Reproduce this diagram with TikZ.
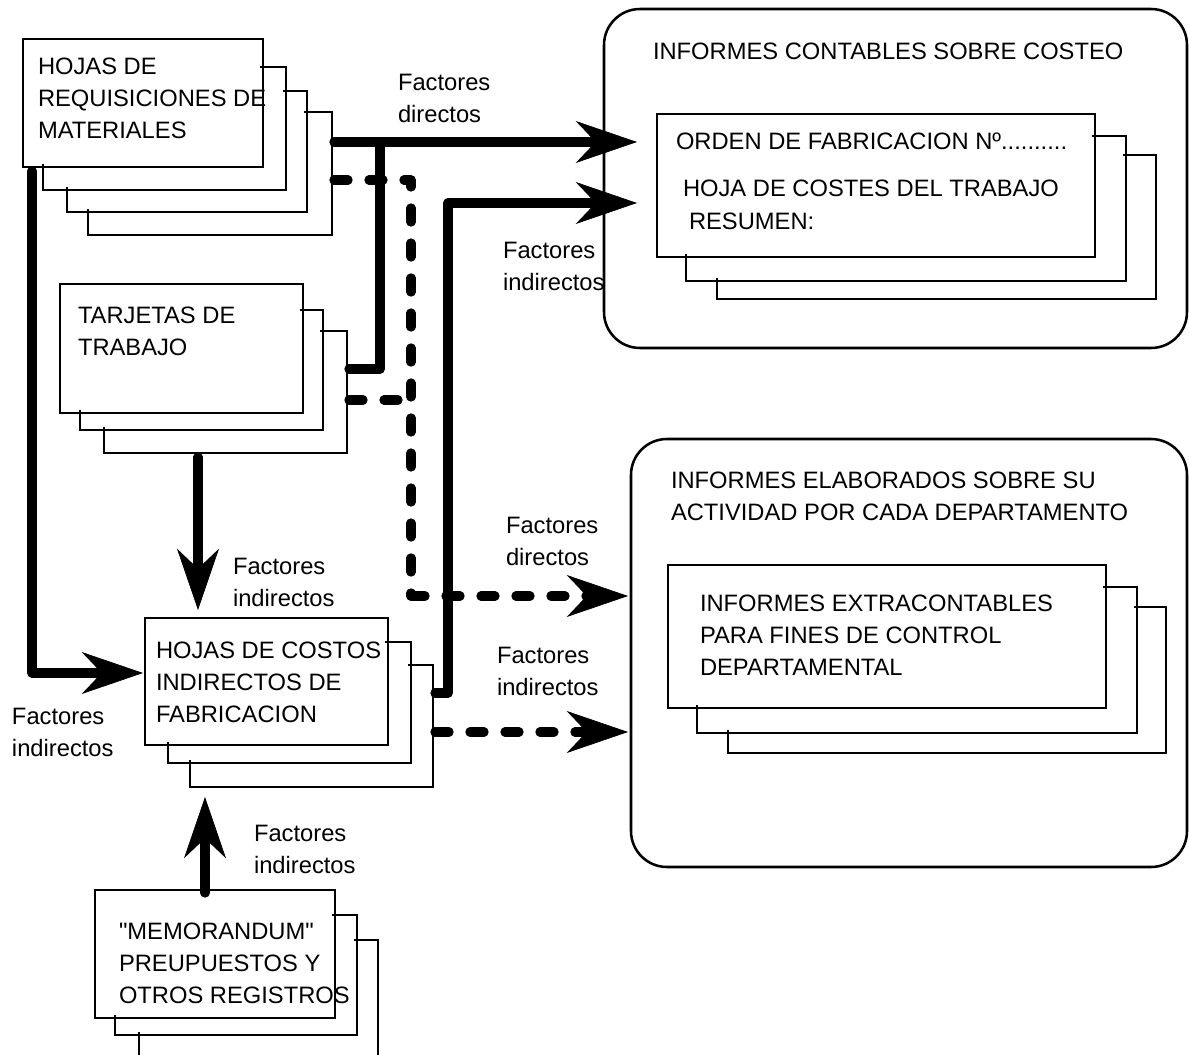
\documentclass[tikz,border=0pt]{standalone}
\usepackage{fontspec}
\setmainfont{Liberation Sans}[Ligatures=TeXOff]
\usetikzlibrary{arrows.meta,fit}
\begin{document}
\begin{tikzpicture}[x=0.75pt,y=-0.75pt,
  frontbox/.style={draw, line width=1.9pt, inner sep=0pt, outer sep=0pt},
  roundbox/.style={draw, line width=1.9pt, rounded corners=27pt, inner sep=0pt, outer sep=0pt},
  sheet/.style={line width=1.9pt},
  txt/.style={anchor=north west, inner sep=0pt, outer sep=0pt, align=left, font=\fontsize{17.8}{24}\selectfont},
  flow/.style={line width=7pt, line cap=round, line join=round},
  dflow/.style={flow, dash pattern=on 10.5pt off 15.75pt},
  bigarrow/.style={-{Stealth[length=46pt,width=31.5pt,inset=15pt,line width=0.5pt]}}
]
\useasboundingbox (0,0) rectangle (1189,1055);
\fill[white] (0,0) rectangle (1189,1055);

% ---------- rounded containers ----------
\node[roundbox, fit={(604,9) (1187,348)}] (ic) {};
\node[roundbox, fit={(631,439) (1187,867)}] (ie) {};

% ---------- back sheets ----------
\newcommand\backsheet[6]{\draw[sheet] (#1,#2) -- (#3,#2) -- (#3,#4) -- (#5,#4) -- (#5,#6);}
% stack 1
\backsheet{260}{67}{286}{190}{43}{164}
\backsheet{283}{91}{307}{212}{67}{187}
\backsheet{304}{112}{332}{235}{88}{209}
% stack 2
\backsheet{300}{310}{323}{430}{80}{410}
\backsheet{320}{331}{347}{453}{104}{427}
% stack 3
\backsheet{385}{642}{411}{763}{168}{742}
\backsheet{408}{665}{433}{787}{190}{760}
% stack 4
\backsheet{332}{915}{357}{1035}{115}{1015}
\draw[sheet] (354,940) -- (378,940) -- (378,1060);
\draw[sheet] (139,1060) -- (139,1032);
% stack ord
\backsheet{1092}{136}{1126}{281}{686}{254}
\backsheet{1123}{155}{1156}{299}{717}{278}
% stack ext
\backsheet{1103}{587}{1137}{733}{697}{705}
\backsheet{1134}{607}{1166}{753}{728}{730}

% ---------- front boxes ----------
\node[frontbox, fit={(23,39) (263,167)}] (req) {};
\node[frontbox, fit={(60,284) (303,413)}] (tar) {};
\node[frontbox, fit={(145,618) (388,745)}] (cif) {};
\node[frontbox, fit={(95,890) (335,1018)}] (mem) {};
\node[frontbox, fit={(657,114) (1095,257)}] (ord) {};
\node[frontbox, fit={(668,565) (1106,708)}] (ext) {};

% ---------- texts ----------
\node[txt] (reqT) at (38,58) {HOJAS DE\\REQUISICIONES DE\\MATERIALES};
\node[txt] (tarT) at (78,307) {TARJETAS DE\\TRABAJO};
\node[txt] (cifT) at (156,642) {HOJAS DE COSTOS\\INDIRECTOS DE\\FABRICACION};
\node[txt] (memT) at (119,923) {"MEMORANDUM"\\PREUPUESTOS Y\\OTROS REGISTROS};
\node[txt] (icT) at (653,43) {INFORMES CONTABLES SOBRE COSTEO};
\node[txt] (ordA) at (676,133) {ORDEN DE FABRICACION Nº..........};
\node[txt] (ordB) at (683,180) {HOJA DE COSTES DEL TRABAJO};
\node[txt] (ordC) at (689,213) {RESUMEN:};
\node[txt] (ieT) at (671,472) {INFORMES ELABORADOS SOBRE SU\\ACTIVIDAD POR CADA DEPARTAMENTO};
\node[txt] (extT) at (700,595) {INFORMES EXTRACONTABLES\\PARA FINES DE CONTROL\\DEPARTAMENTAL};

% ---------- labels ----------
\node[txt] (l1) at (398,74) {Factores\\directos};
\node[txt] (l2) at (503,242) {Factores\\indirectos};
\node[txt] (l3) at (506,517) {Factores\\directos};
\node[txt] (l4) at (497,647) {Factores\\indirectos};
\node[txt] (l5) at (233,558) {Factores\\indirectos};
\node[txt] (l6) at (12,708) {Factores\\indirectos};
\node[txt] (l7) at (254,825) {Factores\\indirectos};

% ---------- connector end points ----------
\coordinate (reqA) at (334,142);
\coordinate (reqB) at (334,180);
\coordinate (reqC) at (32,171);
\coordinate (tarA) at (349,369);
\coordinate (tarB) at (349,400);
\coordinate (tarC) at (198,457);
\coordinate (cifA) at (435,693);
\coordinate (cifB) at (435,732);
\coordinate (cifIn) at (143,673);
\coordinate (cifTop) at (198,610);
\coordinate (cifBot) at (205,797);
\coordinate (memA) at (205,893);
\coordinate (ordIn1) at (637,142);
\coordinate (ordIn2) at (637,203);
\coordinate (extIn1) at (628,596);
\coordinate (extIn2) at (628,732);
\coordinate (vD) at (380,142);
\coordinate (vDd) at (411,596);
\coordinate (vI) at (448,203);

% ---------- connectors ----------
\draw[flow, bigarrow] (reqA) -- (ordIn1);
\draw[flow] (tarA) -| (vD);
\draw[dflow] (reqB) -| (vDd);
\draw[dflow, bigarrow] (vDd) -- (extIn1);
\draw[dflow] (tarB) -- (tarB -| vDd);
\draw[flow] (cifA) -| (vI);
\draw[flow, bigarrow] (vI) -- (ordIn2);
\draw[dflow, bigarrow] (cifB) -- (extIn2);
\draw[flow, bigarrow] (reqC) |- (cifIn);
\draw[flow, bigarrow] (tarC) -- (cifTop);
\draw[flow, bigarrow] (memA) -- (cifBot);
\end{tikzpicture}
\end{document}
